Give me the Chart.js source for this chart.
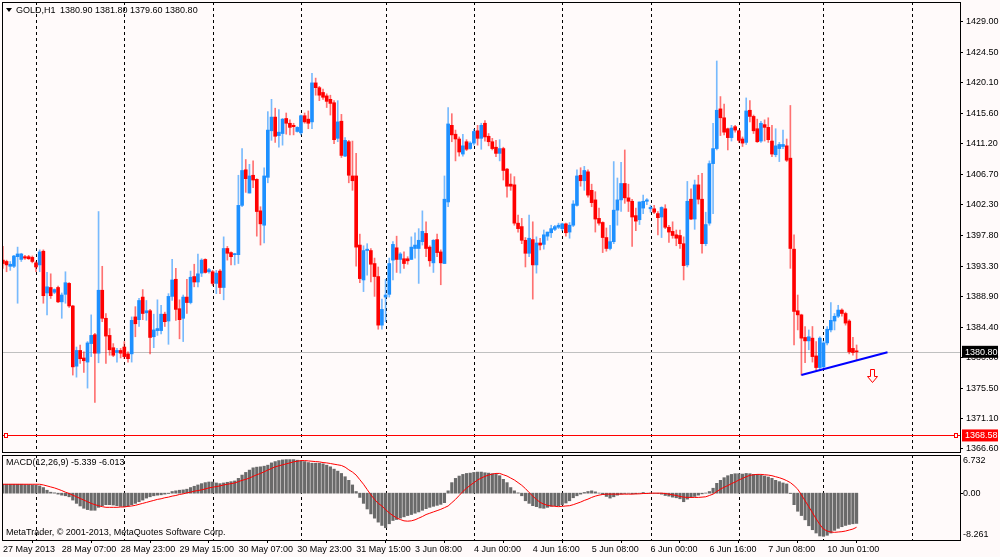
<!DOCTYPE html>
<html lang="en">
<head>
<meta charset="UTF-8">
<title>GOLD,H1</title>
<script src="https://cdn.jsdelivr.net/npm/chart.js"></script>
<style>
  html, body { margin: 0; padding: 0; background: #fffafa; }
  .wrap { position: relative; width: 1000px; height: 557px; overflow: hidden; }
  #main { position: absolute; left: 0; top: 0; }
  #macd { position: absolute; left: 0; top: 453px; }
</style>
</head>
<body>
<div class="wrap">
  <canvas id="main" width="1000" height="453"></canvas>
  <canvas id="macd" width="1000" height="104"></canvas>
</div>
<script>
// H1 bars, 27 May 2013 15:00 .. 10 Jun 2013 09:00
const open = [
  1394.2, 1394.0, 1393.3, 1393.3, 1394.7, 1394.3, 1394.7, 1394.7, 1394.6, 1393.8,
  1393.5, 1395.5, 1389.4, 1390.2, 1389.5, 1390.2, 1388.1, 1389.2, 1390.8, 1387.5,
  1378.7, 1381.0, 1379.9, 1379.3, 1382.0, 1383.3, 1380.6, 1389.8, 1385.7, 1383.2,
  1381.4, 1380.7, 1381.0, 1381.5, 1380.5, 1380.5, 1385.9, 1385.5, 1388.8, 1386.5,
  1386.8, 1383.0, 1383.9, 1383.9, 1386.3, 1385.3, 1388.9, 1391.4, 1387.1, 1385.7,
  1388.8, 1388.0, 1391.8, 1391.0, 1392.3, 1394.3, 1392.5, 1392.5, 1390.8, 1392.6,
  1390.2, 1395.9, 1395.3, 1395.0, 1395.0, 1402.2, 1407.4, 1404.0, 1406.6, 1406.0,
  1401.4, 1399.3, 1406.3, 1413.1, 1415.1, 1412.4, 1412.7, 1414.9, 1414.2, 1413.9,
  1413.0, 1412.8, 1415.3, 1414.8, 1414.4, 1420.1, 1419.4, 1418.7, 1418.2, 1417.7,
  1417.2, 1412.0, 1414.5, 1409.4, 1411.5, 1406.5, 1406.5, 1396.4, 1391.3, 1395.6,
  1395.6, 1393.7, 1391.8, 1384.7, 1388.8, 1389.2, 1394.2, 1396.0, 1394.3, 1394.4,
  1394.4, 1394.3, 1395.9, 1395.9, 1396.9, 1398.1, 1396.1, 1393.8, 1397.2, 1395.4,
  1393.7, 1402.7, 1413.9, 1412.6, 1411.9, 1409.7, 1411.5, 1410.5, 1411.3, 1413.1,
  1412.0, 1414.2, 1412.3, 1411.5, 1410.7, 1409.8, 1410.5, 1407.5, 1405.3, 1405.2,
  1399.6, 1399.1, 1397.1, 1395.2, 1397.2, 1393.5, 1396.7, 1396.5, 1397.7, 1398.2,
  1398.7, 1399.0, 1398.8, 1399.5, 1398.3, 1399.3, 1402.2, 1406.6, 1405.8, 1407.1,
  1404.4, 1403.0, 1400.3, 1399.7, 1397.5, 1395.9, 1396.9, 1401.5, 1403.0, 1405.4,
  1403.3, 1402.8, 1400.7, 1400.1, 1401.8, 1402.8, 1401.7, 1401.7, 1401.0, 1400.5,
  1401.7, 1399.0, 1398.4, 1397.9, 1397.8, 1396.6, 1393.5, 1403.1, 1400.2, 1405.2,
  1403.1, 1396.6, 1399.6, 1408.3, 1410.5, 1416.3, 1415.0, 1413.4, 1412.1, 1413.7,
  1413.1, 1411.9, 1411.4, 1416.1, 1415.2, 1413.4, 1411.6, 1414.0, 1413.6, 1411.6,
  1409.6, 1410.5, 1410.8, 1410.9, 1409.1, 1395.8, 1386.8, 1386.2, 1382.9, 1382.4,
  1382.8, 1380.2, 1378.5, 1378.6, 1382.1, 1384.0, 1385.3, 1386.0, 1386.9, 1386.4,
  1385.3, 1381.3, 1380.9
];
const high = [
  1396.2, 1394.2, 1394.0, 1394.9, 1396.1, 1395.2, 1394.9, 1394.9, 1394.8, 1394.0,
  1395.7, 1395.7, 1392.4, 1392.2, 1390.0, 1390.4, 1389.4, 1392.5, 1390.9, 1387.6,
  1381.5, 1381.8, 1380.8, 1382.3, 1386.2, 1383.5, 1401.3, 1393.3, 1386.4, 1384.2,
  1382.0, 1381.3, 1381.3, 1382.3, 1380.8, 1385.9, 1387.4, 1388.6, 1389.9, 1388.3,
  1387.0, 1386.3, 1388.4, 1387.6, 1386.6, 1389.3, 1394.3, 1393.0, 1388.4, 1389.1,
  1391.4, 1392.6, 1393.6, 1395.1, 1394.4, 1394.4, 1393.0, 1392.7, 1392.7, 1392.8,
  1397.6, 1396.2, 1395.4, 1395.2, 1406.6, 1410.5, 1408.9, 1408.2, 1408.7, 1406.1,
  1402.0, 1407.7, 1415.9, 1417.7, 1416.4, 1416.2, 1414.9, 1415.7, 1414.7, 1414.2,
  1413.7, 1415.4, 1415.7, 1416.0, 1421.5, 1420.8, 1419.6, 1419.2, 1418.5, 1418.3,
  1417.5, 1417.5, 1415.5, 1412.1, 1411.7, 1411.6, 1409.8, 1398.0, 1396.3, 1396.6,
  1395.9, 1394.5, 1393.2, 1388.5, 1391.4, 1394.5, 1396.9, 1397.7, 1395.3, 1395.4,
  1394.7, 1397.6, 1398.2, 1398.8, 1401.4, 1399.8, 1396.3, 1397.2, 1398.0, 1395.7,
  1406.5, 1416.5, 1415.6, 1413.2, 1412.2, 1412.6, 1411.8, 1411.5, 1413.3, 1413.9,
  1414.2, 1414.6, 1412.7, 1412.0, 1411.7, 1411.8, 1410.7, 1407.6, 1406.8, 1406.4,
  1400.8, 1400.3, 1397.5, 1400.8, 1399.8, 1397.6, 1397.4, 1398.6, 1398.3, 1399.3,
  1399.3, 1399.6, 1399.6, 1399.6, 1399.7, 1402.9, 1407.4, 1407.7, 1407.9, 1407.4,
  1405.3, 1404.2, 1401.8, 1399.8, 1398.9, 1399.3, 1408.6, 1406.2, 1408.5, 1410.3,
  1405.3, 1403.1, 1401.8, 1402.7, 1403.7, 1403.2, 1402.2, 1402.2, 1401.3, 1402.0,
  1402.3, 1399.3, 1399.8, 1398.6, 1398.6, 1397.6, 1405.7, 1404.6, 1405.9, 1406.6,
  1406.9, 1401.2, 1408.7, 1414.2, 1423.3, 1418.1, 1417.0, 1413.5, 1413.9, 1413.9,
  1413.2, 1412.2, 1417.9, 1417.5, 1415.4, 1414.8, 1414.5, 1414.7, 1415.0, 1413.9,
  1413.4, 1411.4, 1413.2, 1411.9, 1416.8, 1397.9, 1389.1, 1386.3, 1384.5, 1384.0,
  1384.5, 1382.3, 1383.0, 1382.4, 1384.5, 1388.0, 1386.4, 1387.6, 1387.1, 1386.6,
  1385.5, 1382.9, 1381.8
];
const low = [
  1393.0, 1392.5, 1392.7, 1393.1, 1387.9, 1394.0, 1394.3, 1394.3, 1393.8, 1392.5,
  1392.5, 1387.9, 1386.2, 1388.6, 1389.3, 1388.0, 1385.7, 1387.9, 1387.3, 1377.4,
  1377.1, 1379.1, 1377.8, 1375.5, 1380.1, 1373.4, 1379.2, 1385.2, 1379.1, 1380.3,
  1380.1, 1379.3, 1379.9, 1379.8, 1379.3, 1379.3, 1383.0, 1384.5, 1385.5, 1385.4,
  1380.5, 1381.4, 1383.2, 1383.4, 1384.5, 1381.9, 1388.3, 1385.4, 1382.7, 1382.3,
  1386.4, 1387.8, 1390.3, 1390.3, 1391.8, 1392.3, 1392.3, 1390.5, 1389.3, 1389.3,
  1388.4, 1394.2, 1393.5, 1393.5, 1393.7, 1402.0, 1404.1, 1404.0, 1404.8, 1397.7,
  1396.4, 1396.7, 1405.5, 1411.7, 1411.4, 1410.7, 1411.0, 1412.6, 1412.5, 1412.5,
  1412.9, 1412.5, 1414.2, 1413.4, 1413.4, 1418.3, 1417.5, 1417.7, 1416.5, 1415.4,
  1411.2, 1411.5, 1409.2, 1409.3, 1405.5, 1404.4, 1393.3, 1390.9, 1389.6, 1392.0,
  1391.0, 1388.9, 1384.1, 1384.1, 1385.2, 1388.8, 1391.3, 1392.4, 1392.3, 1393.0,
  1393.6, 1394.3, 1394.5, 1390.8, 1396.4, 1394.7, 1393.3, 1392.4, 1394.7, 1390.6,
  1393.7, 1402.0, 1411.5, 1408.7, 1409.4, 1409.4, 1410.2, 1410.4, 1411.0, 1411.0,
  1410.4, 1411.6, 1410.9, 1410.3, 1409.3, 1408.7, 1405.9, 1403.4, 1404.4, 1399.3,
  1398.3, 1396.6, 1393.2, 1394.7, 1388.5, 1392.3, 1395.7, 1395.8, 1397.1, 1397.5,
  1398.5, 1398.8, 1398.5, 1397.7, 1397.4, 1399.1, 1402.1, 1405.0, 1404.4, 1403.4,
  1402.0, 1398.3, 1399.3, 1395.3, 1395.5, 1395.7, 1396.6, 1399.3, 1401.3, 1402.5,
  1401.3, 1396.2, 1398.5, 1399.4, 1401.0, 1402.3, 1401.2, 1401.0, 1397.9, 1397.5,
  1398.8, 1396.8, 1397.4, 1396.3, 1395.9, 1391.3, 1393.2, 1400.1, 1398.7, 1402.4,
  1395.2, 1396.3, 1399.3, 1401.0, 1410.3, 1412.4, 1412.5, 1410.3, 1411.6, 1412.9,
  1411.4, 1410.8, 1411.1, 1414.4, 1412.7, 1411.4, 1411.4, 1411.6, 1411.4, 1409.3,
  1409.3, 1408.6, 1410.5, 1408.6, 1393.0, 1381.8, 1384.0, 1377.4, 1379.2, 1381.1,
  1379.3, 1378.1, 1378.2, 1378.4, 1381.8, 1383.7, 1384.0, 1385.8, 1386.0, 1384.7,
  1380.5, 1380.3, 1379.6
];
const close = [
  1393.7, 1393.5, 1393.6, 1394.8, 1395.1, 1395.1, 1394.5, 1394.4, 1394.0, 1393.2,
  1395.4, 1389.0, 1390.3, 1389.0, 1389.9, 1388.1, 1389.1, 1390.9, 1387.5, 1378.6,
  1381.0, 1379.8, 1379.5, 1382.1, 1383.2, 1380.6, 1389.8, 1385.7, 1383.1, 1381.1,
  1380.3, 1381.0, 1380.6, 1380.1, 1379.8, 1385.4, 1384.9, 1388.3, 1386.4, 1386.8,
  1382.9, 1384.0, 1384.2, 1386.3, 1385.2, 1388.9, 1391.3, 1387.0, 1385.5, 1388.8,
  1388.0, 1391.7, 1391.0, 1392.2, 1394.2, 1392.4, 1392.8, 1390.8, 1392.3, 1390.2,
  1395.9, 1395.2, 1394.7, 1395.1, 1402.2, 1407.3, 1406.1, 1406.5, 1405.9, 1401.3,
  1399.5, 1406.5, 1413.2, 1415.1, 1412.3, 1412.9, 1414.8, 1414.2, 1413.6, 1413.7,
  1413.6, 1415.3, 1414.4, 1414.2, 1420.1, 1419.4, 1418.3, 1418.0, 1417.4, 1417.1,
  1411.8, 1414.4, 1409.5, 1411.7, 1406.6, 1405.8, 1396.1, 1391.5, 1395.6, 1395.8,
  1393.6, 1391.8, 1384.7, 1387.0, 1389.1, 1393.7, 1396.5, 1394.3, 1395.1, 1393.7,
  1394.1, 1396.1, 1396.4, 1397.1, 1398.4, 1395.9, 1394.1, 1397.1, 1395.3, 1393.8,
  1403.1, 1414.1, 1412.5, 1411.9, 1410.0, 1410.9, 1410.4, 1411.3, 1413.0, 1412.0,
  1413.9, 1412.2, 1411.5, 1410.5, 1409.8, 1410.5, 1407.3, 1405.0, 1405.0, 1399.6,
  1398.8, 1397.1, 1395.2, 1397.4, 1393.5, 1396.7, 1396.4, 1397.9, 1398.3, 1398.8,
  1399.1, 1399.3, 1399.5, 1398.2, 1399.3, 1402.4, 1406.5, 1405.8, 1407.3, 1403.7,
  1402.6, 1400.2, 1399.6, 1397.5, 1395.9, 1396.9, 1401.5, 1403.0, 1405.4, 1403.3,
  1402.8, 1400.5, 1399.9, 1402.7, 1402.8, 1403.0, 1401.9, 1401.2, 1400.4, 1401.9,
  1399.0, 1398.3, 1397.8, 1397.4, 1396.6, 1393.4, 1402.8, 1400.2, 1405.2, 1403.1,
  1396.6, 1399.4, 1408.3, 1410.5, 1416.1, 1415.0, 1412.9, 1412.1, 1413.5, 1413.2,
  1411.7, 1411.3, 1416.0, 1415.2, 1413.1, 1411.5, 1414.2, 1413.6, 1411.8, 1409.7,
  1410.9, 1411.1, 1411.1, 1408.8, 1395.9, 1386.7, 1386.2, 1382.8, 1382.4, 1383.0,
  1380.1, 1378.5, 1382.8, 1382.1, 1384.1, 1385.4, 1386.0, 1386.9, 1386.4, 1385.0,
  1380.8, 1380.7, 1380.8
];

// MACD(12,26,9): main line (histogram) and signal line
const macdHist = [
  1.57, 1.57, 1.57, 1.57, 1.57, 1.57, 1.51, 1.51, 1.45, 1.39,
  1.28, 0.99, 0.52, 0.17, 0.06, -0.17, -0.35, -0.46, -0.64, -1.22,
  -1.80, -2.26, -2.67, -2.90, -3.02, -3.02, -2.50, -2.21, -2.03, -2.03,
  -2.09, -2.21, -2.32, -2.38, -2.32, -2.03, -1.80, -1.51, -1.22, -0.87,
  -0.64, -0.46, -0.35, -0.29, -0.17, -0.06, 0.29, 0.41, 0.52, 0.58,
  0.70, 0.99, 1.22, 1.45, 1.68, 1.86, 1.97, 1.97, 1.80, 1.68,
  1.80, 1.92, 2.03, 2.15, 2.61, 3.19, 3.66, 4.07, 4.47, 4.59,
  4.65, 4.76, 4.94, 5.34, 5.57, 5.75, 5.87, 5.92, 5.92, 5.92,
  5.81, 5.69, 5.57, 5.40, 5.28, 5.28, 5.28, 5.17, 4.94, 4.65,
  4.24, 3.89, 3.48, 2.90, 2.26, 1.45, 0.29, -0.75, -1.80, -2.79,
  -3.66, -4.41, -5.11, -5.69, -6.10, -5.40, -4.82, -4.65, -4.41, -4.18,
  -3.95, -3.77, -3.54, -3.31, -3.02, -2.73, -2.50, -2.32, -2.15, -1.97,
  -1.68, 0.41, 1.86, 2.61, 3.02, 3.31, 3.48, 3.54, 3.66, 3.72,
  3.72, 3.60, 3.54, 3.43, 3.31, 3.08, 2.44, 1.86, 0.99, 0.41,
  0.06, -0.46, -1.34, -1.80, -2.21, -2.38, -2.61, -2.67, -2.50, -2.32,
  -2.21, -2.21, -2.03, -1.74, -1.34, -0.81, -0.46, -0.17, 0.12, 0.29,
  0.41, 0.23, 0.02, -0.23, -0.58, -0.87, -0.64, -0.35, -0.17, -0.06,
  -0.02, -0.12, -0.12, -0.02, 0.12, -0.02, -0.02, -0.03, -0.06, -0.17,
  -0.41, -0.52, -0.70, -0.81, -0.99, -1.51, -1.05, -0.75, -0.58, -0.35,
  -0.12, 0.03, 0.29, 0.87, 1.74, 2.26, 2.73, 3.08, 3.31, 3.43,
  3.43, 3.37, 3.48, 3.43, 3.31, 3.31, 3.14, 3.02, 2.85, 2.61,
  2.26, 2.03, 1.80, 1.63, -0.06, -2.03, -3.19, -3.95, -4.70, -5.75,
  -6.45, -7.03, -7.55, -7.61, -7.43, -7.03, -6.56, -6.21, -5.92, -5.69,
  -5.52, -5.40, -5.339
];
const macdSignal = [
  1.57, 1.57, 1.57, 1.57, 1.57, 1.57, 1.57, 1.57, 1.57, 1.57,
  1.57, 1.45, 1.28, 1.10, 0.93, 0.70, 0.46, 0.17, -0.06, -0.35,
  -0.64, -0.93, -1.22, -1.51, -1.80, -2.03, -2.21, -2.38, -2.50, -2.50,
  -2.50, -2.50, -2.44, -2.44, -2.32, -2.26, -2.15, -1.97, -1.80, -1.63,
  -1.45, -1.28, -1.10, -0.99, -0.81, -0.70, -0.52, -0.41, -0.23, -0.12,
  0.06, 0.17, 0.35, 0.46, 0.58, 0.75, 0.93, 1.05, 1.16, 1.28,
  1.45, 1.57, 1.68, 1.80, 2.03, 2.26, 2.44, 2.67, 2.96, 3.25,
  3.48, 3.77, 4.07, 4.36, 4.65, 4.82, 5.00, 5.17, 5.34, 5.52,
  5.63, 5.75, 5.75, 5.69, 5.63, 5.57, 5.52, 5.40, 5.34, 5.23,
  5.11, 5.00, 4.88, 4.59, 4.12, 3.72, 3.19, 2.38, 1.57, 0.64,
  -0.29, -1.10, -1.80, -2.26, -2.90, -3.48, -3.95, -4.36, -4.65, -4.88,
  -4.94, -4.88, -4.70, -4.41, -4.12, -3.77, -3.54, -3.31, -3.08, -2.85,
  -2.56, -2.26, -1.68, -1.10, -0.41, 0.29, 0.87, 1.39, 1.86, 2.32,
  2.67, 2.96, 3.19, 3.37, 3.48, 3.48, 3.25, 3.02, 2.67, 2.32,
  1.86, 1.39, 0.81, 0.12, -0.52, -1.10, -1.63, -1.92, -2.15, -2.26,
  -2.32, -2.38, -2.32, -2.26, -2.21, -2.03, -1.80, -1.57, -1.28, -1.05,
  -0.75, -0.52, -0.35, -0.23, -0.17, -0.17, -0.17, -0.17, -0.17, -0.17,
  -0.17, -0.17, -0.12, -0.12, -0.06, -0.06, 0.00, 0.00, 0.00, 0.00,
  -0.06, -0.17, -0.29, -0.41, -0.58, -0.70, -0.75, -0.75, -0.75, -0.75,
  -0.70, -0.64, -0.41, -0.17, 0.29, 0.70, 1.05, 1.34, 1.68, 1.97,
  2.32, 2.61, 2.90, 3.14, 3.25, 3.31, 3.31, 3.25, 3.19, 3.08,
  2.90, 2.73, 2.50, 2.21, 1.86, 1.34, 0.70, -0.29, -1.34, -2.38,
  -3.43, -4.53, -5.52, -6.33, -6.68, -6.85, -6.91, -6.85, -6.79, -6.68,
  -6.50, -6.33, -6.013
];

// axes
const priceTicks = [1429.00, 1424.50, 1420.10, 1415.60, 1411.20, 1406.70, 1402.30, 1397.80,
  1393.30, 1388.90, 1384.40, 1380.00, 1375.50, 1371.10, 1366.60];
const macdTicks = [6.732, 0, -8.261];
const timeTickIndex = [0, 16, 32, 48, 64, 80, 96, 112, 128, 144, 160, 176, 192, 208, 224];
const timeTickText = ['27 May 2013', '28 May 07:00', '28 May 23:00', '29 May 15:00', '30 May 07:00',
  '30 May 23:00', '31 May 15:00', '3 Jun 08:00', '4 Jun 00:00', '4 Jun 16:00', '5 Jun 08:00',
  '6 Jun 00:00', '6 Jun 16:00', '7 Jun 08:00', '10 Jun 01:00'];
const daySeparators = [9, 33, 57, 81, 104, 128, 152, 176, 200, 223, 247];

// objects on the chart
const bidPrice = 1380.80;
const alertPrice = 1368.58;
const trendIdx = [217, 240.4];
const trendPrice = [1377.4, 1380.75];
const arrowIdx = 236.1;
const arrowPrice = 1378.3;

const X_MIN = -0.24, X_MAX = 260.1;
const BG = '#fffafa';
const UP = '#1e90ff', DOWN = '#ff0000';
const UP_WICK = 'rgba(30,144,255,0.6)', DOWN_WICK = 'rgba(255,0,0,0.55)';
const FONT = '9px "Liberation Sans", Arial, sans-serif';

Chart.defaults.font.family = '"Liberation Sans", Arial, sans-serif';
Chart.defaults.font.size = 9;
Chart.defaults.color = '#000';
Chart.defaults.animation = false;

const last = close.length - 1;
const isUp = i => close[i] >= open[i];

// shared: background, day separators, pane frame
const paneDecor = {
  id: 'paneDecor',
  beforeDraw(chart) {
    const ctx = chart.ctx;
    ctx.save();
    ctx.fillStyle = BG;
    ctx.fillRect(0, 0, chart.width, chart.height);
    ctx.restore();
  },
  beforeDatasetsDraw(chart) {
    const {ctx, chartArea: a, scales: {x}} = chart;
    ctx.save();
    ctx.strokeStyle = '#000';
    ctx.lineWidth = 1;
    ctx.setLineDash([3, 3]);
    daySeparators.forEach(i => {
      const px = Math.round(x.getPixelForValue(i)) + 0.5;
      ctx.beginPath();
      ctx.moveTo(px, a.top);
      ctx.lineTo(px, a.bottom);
      ctx.stroke();
    });
    ctx.restore();
  },
  afterDraw(chart) {
    const {ctx, chartArea: a} = chart;
    ctx.save();
    ctx.strokeStyle = '#000';
    ctx.lineWidth = 1;
    ctx.strokeRect(a.left + 0.5, a.top + 0.5, a.right - a.left, a.bottom - a.top);
    ctx.restore();
  }
};

function box(ctx, text, x, y, fill) {
  ctx.fillStyle = fill;
  ctx.fillRect(x, y - 6, 36, 12);
  ctx.fillStyle = '#fff';
  ctx.textBaseline = 'middle';
  ctx.fillText(text, x + 3, y + 0.5);
}

const priceDecor = {
  id: 'priceDecor',
  beforeDatasetsDraw(chart) {
    const {ctx, chartArea: a, scales: {y}} = chart;
    ctx.save();
    ctx.lineWidth = 1;
    const yb = Math.round(y.getPixelForValue(bidPrice)) + 0.5;
    ctx.strokeStyle = '#c0c0c0';
    ctx.beginPath(); ctx.moveTo(a.left, yb); ctx.lineTo(a.right, yb); ctx.stroke();
    const ya = Math.round(y.getPixelForValue(alertPrice)) + 0.5;
    ctx.strokeStyle = '#ff0000';
    ctx.beginPath(); ctx.moveTo(a.left, ya); ctx.lineTo(a.right, ya); ctx.stroke();
    ctx.restore();
  },
  afterDatasetsDraw(chart) {
    const {ctx, scales: {x, y}} = chart;
    const cx = Math.round(x.getPixelForValue(arrowIdx)) + 0.5;
    const top = Math.round(y.getPixelForValue(arrowPrice)) + 0.5;
    ctx.save();
    ctx.beginPath();
    ctx.moveTo(cx - 2, top);
    ctx.lineTo(cx + 2, top);
    ctx.lineTo(cx + 2, top + 7);
    ctx.lineTo(cx + 5, top + 7);
    ctx.lineTo(cx, top + 13);
    ctx.lineTo(cx - 5, top + 7);
    ctx.lineTo(cx - 2, top + 7);
    ctx.closePath();
    ctx.fillStyle = BG;
    ctx.fill();
    ctx.strokeStyle = '#ff0000';
    ctx.lineWidth = 1;
    ctx.stroke();
    ctx.restore();
  },
  afterDraw(chart) {
    const {ctx, chartArea: a, scales: {y}} = chart;
    ctx.save();
    ctx.font = FONT;
    // alert-line end markers
    const ya = Math.round(y.getPixelForValue(alertPrice)) + 0.5;
    ctx.strokeStyle = '#ff0000';
    ctx.fillStyle = BG;
    [a.left + 2, a.right - 6].forEach(px => {
      ctx.fillRect(px, ya - 2, 4, 4);
      ctx.strokeRect(px + 0.5, ya - 2, 3, 4);
    });
    box(ctx, bidPrice.toFixed(2), a.right + 2, y.getPixelForValue(bidPrice), '#000');
    box(ctx, alertPrice.toFixed(2), a.right + 2, y.getPixelForValue(alertPrice), '#ff0000');
    // symbol header
    ctx.fillStyle = '#000';
    ctx.beginPath();
    ctx.moveTo(6, 8); ctx.lineTo(12, 8); ctx.lineTo(9, 12); ctx.closePath();
    ctx.fill();
    ctx.textBaseline = 'middle';
    ctx.fillText('GOLD,H1', 16, 10.5);
    ctx.fillText([open[last], high[last], low[last], close[last]].map(v => v.toFixed(2)).join(' '), 60, 10.5);
    ctx.restore();
  }
};

const macdDecor = {
  id: 'macdDecor',
  afterDraw(chart) {
    const {ctx, chartArea: a, scales: {y}} = chart;
    ctx.save();
    ctx.font = FONT;
    ctx.fillStyle = '#000';
    ctx.textBaseline = 'middle';
    ctx.fillText('MACD(12,26,9) ' + macdHist[last].toFixed(3) + ' ' + macdSignal[last].toFixed(3), 6, a.top + 8);
    ctx.fillText('MetaTrader, \u00a9 2001-2013, MetaQuotes Software Corp.', 6, a.bottom - 7);
    macdTicks.forEach(v => {
      const py = Math.min(Math.max(y.getPixelForValue(v), a.top + 6), a.bottom - 5);
      ctx.fillText(v === 0 ? '0.00' : v.toFixed(3), a.right + 3, py);
    });
    const yz = Math.round(y.getPixelForValue(0)) + 0.5;
    ctx.strokeStyle = '#000';
    ctx.beginPath(); ctx.moveTo(a.right, yz); ctx.lineTo(a.right + 3, yz); ctx.stroke();
    ctx.restore();
  }
};

const idx = close.map((_, i) => i);

new Chart(document.getElementById('main'), {
  type: 'bar',
  data: {
    datasets: [
      {
        type: 'line',
        data: trendIdx.map((v, k) => ({x: v, y: trendPrice[k]})),
        borderColor: '#0000ff',
        borderWidth: 2,
        pointRadius: 0,
        order: 0
      },
      {
        data: idx.map(i => ({x: i, y: [open[i], close[i]]})),
        backgroundColor: c => isUp(c.dataIndex) ? UP : DOWN,
        barThickness: 3,
        minBarLength: 1,
        grouped: false,
        borderWidth: 0,
        order: 1
      },
      {
        data: idx.map(i => ({x: i, y: [low[i], high[i]]})),
        backgroundColor: c => isUp(c.dataIndex) ? UP_WICK : DOWN_WICK,
        barThickness: 1,
        grouped: false,
        borderWidth: 0,
        order: 2
      }
    ]
  },
  options: {
    responsive: false,
    events: [],
    layout: {padding: {left: 2, top: 2, right: 0, bottom: 1}},
    plugins: {legend: {display: false}, tooltip: {enabled: false}},
    scales: {
      x: {type: 'linear', display: false, min: X_MIN, max: X_MAX, offset: false},
      y: {
        position: 'right',
        min: 1366.16,
        max: 1431.92,
        beginAtZero: false,
        bounds: 'data',
        afterBuildTicks: s => { s.ticks = priceTicks.map(v => ({value: v})); },
        afterFit: s => { s.width = 40; s.paddingTop = 0; s.paddingBottom = 0; },
        ticks: {callback: v => v.toFixed(2), padding: 3, autoSkip: false, color: '#000'},
        grid: {drawOnChartArea: false, tickLength: 3, color: '#000'},
        border: {display: false}
      }
    }
  },
  plugins: [paneDecor, priceDecor]
});

new Chart(document.getElementById('macd'), {
  type: 'bar',
  data: {
    datasets: [
      {
        type: 'line',
        data: idx.map(i => ({x: i, y: macdSignal[i]})),
        borderColor: '#ff0000',
        borderWidth: 1,
        pointRadius: 0,
        order: 0
      },
      {
        data: idx.map(i => ({x: i, y: macdHist[i]})),
        backgroundColor: '#6a6a6a',
        barThickness: 2.5,
        grouped: false,
        borderWidth: 0,
        order: 1
      }
    ]
  },
  options: {
    responsive: false,
    events: [],
    layout: {padding: {left: 2, top: 2, right: 0, bottom: 0}},
    plugins: {legend: {display: false}, tooltip: {enabled: false}},
    scales: {
      x: {
        type: 'linear',
        min: X_MIN,
        max: X_MAX,
        offset: false,
        bounds: 'data',
        afterBuildTicks: s => { s.ticks = timeTickIndex.map(v => ({value: v})); },
        afterFit: s => { s.height = 17; s.paddingLeft = 0; s.paddingRight = 0; },
        ticks: {
          callback: v => timeTickText[timeTickIndex.indexOf(v)],
          align: 'start',
          autoSkip: false,
          maxRotation: 0,
          padding: 1,
          color: '#000'
        },
        grid: {drawOnChartArea: false, tickLength: 3, color: '#000'},
        border: {display: false}
      },
      y: {
        position: 'right',
        min: -8.261,
        max: 6.732,
        beginAtZero: false,
        bounds: 'data',
        afterFit: s => { s.width = 40; s.paddingTop = 0; s.paddingBottom = 0; },
        ticks: {display: false},
        grid: {display: false},
        border: {display: false}
      }
    }
  },
  plugins: [paneDecor, macdDecor]
});
</script>
</body>
</html>
